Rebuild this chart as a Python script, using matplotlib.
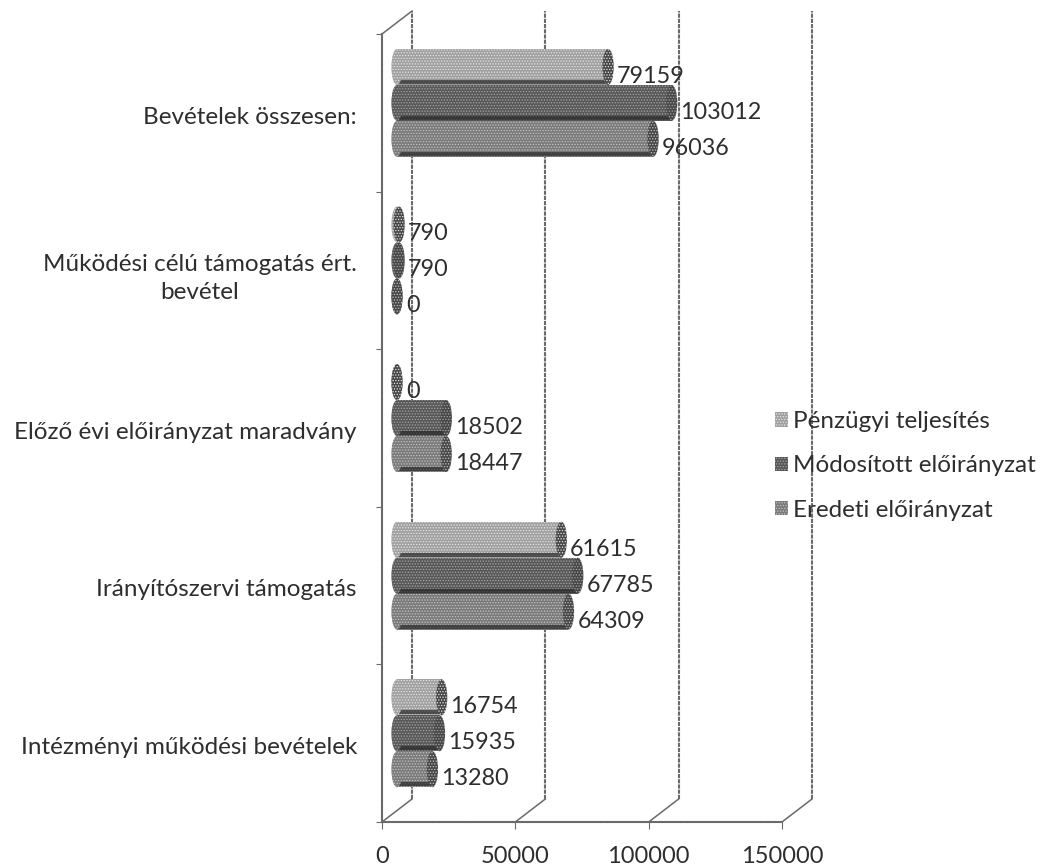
"""Horizontal cylinder bar chart, scanned-looking 3D Excel style."""
import matplotlib
matplotlib.use('Agg')
import matplotlib.pyplot as plt
import matplotlib.patches as mpatches

categories = ["Intézményi működési bevételek", "Irányítószervi támogatás",
              "Előző évi előirányzat maradvány",
              "Működési célú támogatás ért.\nbevétel", "Bevételek összesen:"]
eredeti = [13280, 64309, 18447, 0, 96036]
modositott = [15935, 67785, 18502, 790, 103012]
penzugyi = [16754, 61615, 0, 790, 79159]
series_names = ["Eredeti előirányzat", "Módosított előirányzat", "Pénzügyi teljesítés"]
x_ticks = [0, 50000, 100000, 150000]

COLORS = ["#7a7a7a", "#585858", "#a0a0a0"]
HATCH_COL = ["#c4c4c4", "#a6a6a6", "#e4e4e4"]
FONT = "Lato"
TEXT = "#2e2e2e"
WALL = "#6a6a6a"

W, H = 1043, 867
L, R, T, B = 382, 782, 34, 822
BACK_DX = 11250   # 30 px in data units
BACK_DY = 0.146   # 23 px
BAR_DX = 5625     # bars stand off the front plane
BAR_H = 0.228
GROUP_DY = 0.063
CAP_W = 4200

plt.rcParams['hatch.linewidth'] = 0.6
fig = plt.figure(figsize=(W / 100, H / 100), dpi=100)
ax = fig.add_axes([L / W, 1 - B / H, (R - L) / W, (B - T) / H])
ax.set_xlim(0, 150000)
ax.set_ylim(0, 5)
for s in ('top', 'right'):
    ax.spines[s].set_visible(False)
for s in ('left', 'bottom'):
    ax.spines[s].set_color(WALL)
    ax.spines[s].set_linewidth(1.5)
    ax.spines[s].set_linestyle((0, (3, 0.5)))

# back wall and floor diagonals
for t in x_ticks:
    ax.plot([t + BACK_DX] * 2, [BACK_DY, 5 + BACK_DY], color=WALL, lw=1.5,
            ls=(0, (2, 0.5)), clip_on=False, zorder=1)
    ax.plot([t, t + BACK_DX], [0, BACK_DY], color=WALL, lw=1.1, clip_on=False, zorder=1)
ax.plot([0, BACK_DX], [5, 5 + BACK_DY], color=WALL, lw=1.1, clip_on=False, zorder=1)

# cylinders
for j, vals in enumerate([eredeti, modositott, penzugyi]):
    for i, v in enumerate(vals):
        yc = i + 0.5 + GROUP_DY + (j - 1) * BAR_H
        ax.barh(yc, v, left=BAR_DX, height=BAR_H, color=COLORS[j],
                edgecolor=HATCH_COL[j], hatch='......', linewidth=0, zorder=3 + j)
        ax.plot([BAR_DX, BAR_DX + v], [yc - BAR_H * 0.42] * 2, color="#262626",
                lw=3, alpha=0.7, zorder=3 + j, solid_capstyle='butt')
        for xc, col in ((BAR_DX, COLORS[j]), (BAR_DX + v, "#474747")):
            ax.add_patch(mpatches.Ellipse((xc, yc), CAP_W, BAR_H, facecolor=col,
                                          edgecolor=HATCH_COL[j], hatch='......',
                                          linewidth=0, zorder=3 + j))
        ax.text(BAR_DX + v + 3300, yc - 0.06, str(v), ha='left', va='center',
                fontsize=16.8, family=FONT, color=TEXT, zorder=8)

ax.set_xticks(x_ticks)
ax.set_xticklabels([str(t) for t in x_ticks], fontsize=17, family=FONT, color=TEXT)
ax.tick_params(axis='x', length=5, color=WALL, pad=12)
ax.set_yticks(range(6))
ax.set_yticklabels([])
ax.tick_params(axis='y', which='major', length=4, color=WALL)
ax.set_yticks([i + 0.485 for i in range(5)], minor=True)
ax.set_yticklabels(categories, minor=True, fontsize=17.5, family=FONT, color=TEXT,
                   multialignment='center', linespacing=1.4)
ax.tick_params(axis='y', which='minor', length=0, pad=18)

handles = [mpatches.Patch(facecolor=COLORS[k], edgecolor=HATCH_COL[k], hatch='......',
                          linewidth=0) for k in (2, 1, 0)]
labels = [series_names[k] for k in (2, 1, 0)]
fig.legend(handles, labels, loc='center left', bbox_to_anchor=(753 / W, 1 - 466 / H),
           frameon=False, labelcolor=TEXT,
           prop={'family': FONT, 'size': 17.5},
           handlelength=0.55, handleheight=0.55, handletextpad=0.2, labelspacing=0.95)

fig.savefig("out.png", dpi=100)
plt.close()
